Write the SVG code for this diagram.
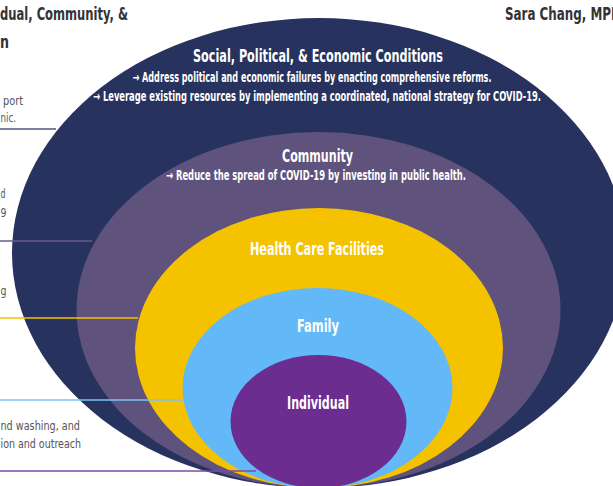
<svg xmlns="http://www.w3.org/2000/svg" width="613" height="486" viewBox="0 0 613 486">
  <style>
    .hdr { font-family: "Liberation Sans Narrow", "DejaVu Sans Condensed", "Liberation Sans", sans-serif; font-weight: bold; font-size: 17px; fill: #333333; }
    .note { font-family: "Liberation Sans Narrow", "DejaVu Sans Condensed", "Liberation Sans", sans-serif; font-size: 12.5px; fill: #555555; }
    .title { font-family: "Liberation Sans Narrow", "DejaVu Sans Condensed", "Liberation Sans", sans-serif; font-weight: bold; font-size: 17.5px; fill: #ffffff; text-anchor: middle; }
    .sub { font-family: "Liberation Sans Narrow", "DejaVu Sans Condensed", "Liberation Sans", sans-serif; font-weight: bold; font-size: 13.5px; fill: #ffffff; text-anchor: middle; }
    .lead { fill: none; stroke-width: 1.6; }
  </style>

  <rect width="613" height="486" fill="#ffffff"/>

  <!-- heading fragments -->
  <text class="hdr" x="0" y="20" textLength="128" lengthAdjust="spacingAndGlyphs">dual, Community, &amp;</text>
  <text class="hdr" x="0" y="48" textLength="9" lengthAdjust="spacingAndGlyphs">n</text>
  <text class="hdr" x="505" y="20" textLength="116" lengthAdjust="spacingAndGlyphs">Sara Chang, MPH</text>

  <!-- side notes -->
  <text class="note" x="3" y="105" textLength="20" lengthAdjust="spacingAndGlyphs">port</text>
  <text class="note" x="0.5" y="122" textLength="15.5" lengthAdjust="spacingAndGlyphs">nic.</text>
  <text class="note" x="0.5" y="198" textLength="5" lengthAdjust="spacingAndGlyphs">d</text>
  <text class="note" x="0.5" y="217" textLength="6" lengthAdjust="spacingAndGlyphs">9</text>
  <text class="note" x="0.5" y="295" textLength="6" lengthAdjust="spacingAndGlyphs">g</text>
  <text class="note" x="0.5" y="430" textLength="79.5" lengthAdjust="spacingAndGlyphs">nd washing, and</text>
  <text class="note" x="0.5" y="448" textLength="80.5" lengthAdjust="spacingAndGlyphs">ion and outreach</text>

  <!-- nested levels, outermost first -->
  <g id="social">
    <ellipse cx="319" cy="253" rx="307" ry="235" fill="#27335e"/>
    <text class="title" x="318" y="62" textLength="250" lengthAdjust="spacingAndGlyphs">Social, Political, &amp; Economic Conditions</text>
    <text class="sub" x="312" y="82" textLength="359" lengthAdjust="spacingAndGlyphs">→ Address political and economic failures by enacting comprehensive reforms.</text>
    <text class="sub" x="317" y="101" textLength="448" lengthAdjust="spacingAndGlyphs">→ Leverage existing resources by implementing a coordinated, national strategy for COVID-19.</text>
  </g>
  <g id="community">
    <ellipse cx="318.5" cy="310" rx="242" ry="178" fill="#5f537d"/>
    <text class="title" x="317.5" y="162" textLength="71" lengthAdjust="spacingAndGlyphs">Community</text>
    <text class="sub" x="316" y="180" textLength="300" lengthAdjust="spacingAndGlyphs">→ Reduce the spread of COVID-19 by investing in public health.</text>
  </g>
  <g id="health-care">
    <ellipse cx="319" cy="348" rx="184" ry="140" fill="#f5c200"/>
    <text class="title" x="317" y="255" textLength="134" lengthAdjust="spacingAndGlyphs">Health Care Facilities</text>
  </g>
  <g id="family">
    <ellipse cx="317.5" cy="388" rx="135" ry="100" fill="#63b8f7"/>
    <text class="title" x="318" y="332" textLength="42" lengthAdjust="spacingAndGlyphs">Family</text>
  </g>
  <g id="individual">
    <ellipse cx="318.5" cy="421.5" rx="88" ry="66.5" fill="#6c2d91"/>
    <text class="title" x="318" y="409" textLength="62" lengthAdjust="spacingAndGlyphs">Individual</text>
  </g>

  <!-- leader lines from the side notes to each level -->
  <g id="connectors">
    <line class="lead" x1="0" y1="129" x2="56" y2="129" stroke="#4e5780"/>
    <line class="lead" x1="0" y1="241" x2="92" y2="241" stroke="#675d8c"/>
    <line class="lead" x1="0" y1="318" x2="138" y2="318" stroke="#f5c200"/>
    <line class="lead" x1="0" y1="400" x2="184" y2="400" stroke="#7cc3f5"/>
    <line class="lead" x1="0" y1="471" x2="256" y2="471" stroke="#7e48a8"/>
  </g>
</svg>
